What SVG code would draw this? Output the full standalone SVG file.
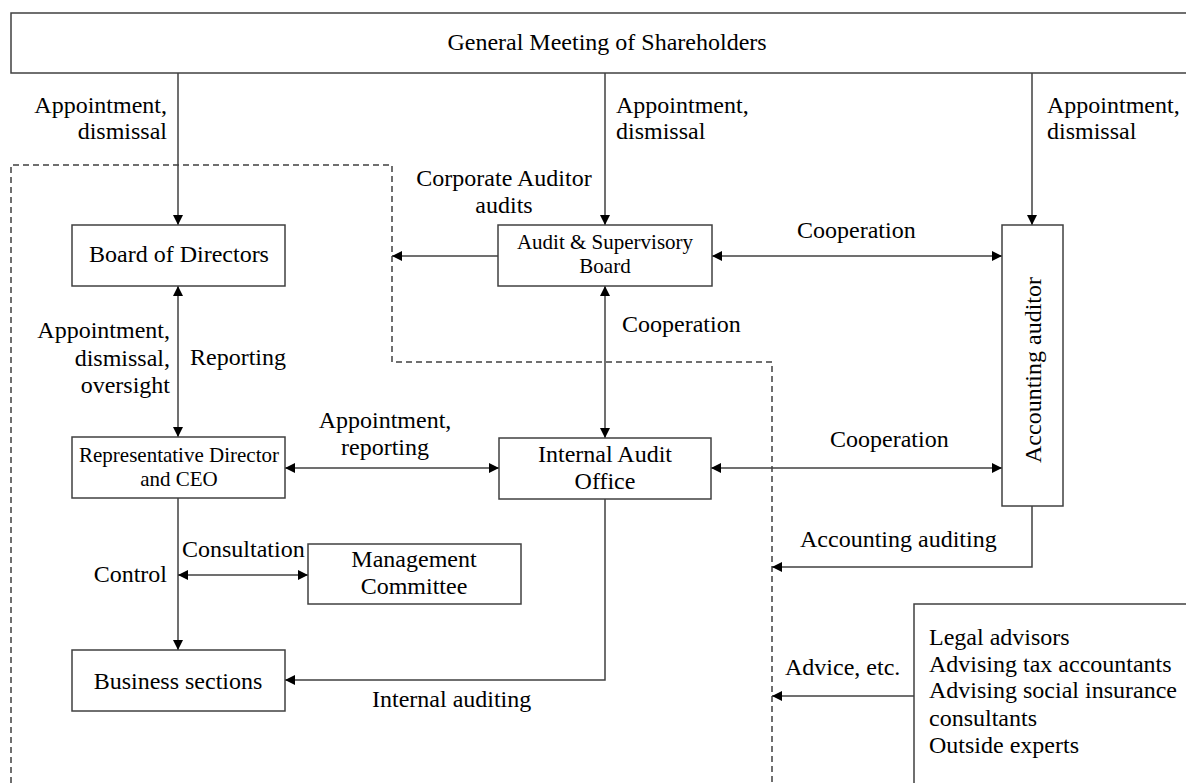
<svg xmlns="http://www.w3.org/2000/svg" width="1186" height="783" viewBox="0 0 1186 783">
<defs>
<style>
text{font-family:"Liberation Serif","Times New Roman",serif;font-size:24px;fill:#000}
.sm{font-size:21px}
.mid{text-anchor:middle}
.end{text-anchor:end}
.box{fill:#fff;stroke:#404040;stroke-width:1.5}
.ln{fill:none;stroke:#404040;stroke-width:1.5}
.dash{fill:none;stroke:#404040;stroke-width:1.5;stroke-dasharray:6 4}
</style>
<marker id="ah" viewBox="0 0 10 10" refX="10" refY="5" markerWidth="10" markerHeight="10" markerUnits="userSpaceOnUse" orient="auto-start-reverse">
<path d="M0,0 L10,5 L0,10 z" fill="#000"/>
</marker>
</defs>
<rect width="1186" height="783" fill="#fff"/>

<path id="boundary" class="dash" d="M11,783 L11,165 L392,165 L392,362 L772,362 L772,783"/>

<g id="connectors">
<path class="ln" d="M178,73 L178,225" marker-end="url(#ah)"/>
<path class="ln" d="M605,73 L605,225" marker-end="url(#ah)"/>
<path class="ln" d="M1032,73 L1032,225" marker-end="url(#ah)"/>
<path class="ln" d="M498,256 L392,256" marker-end="url(#ah)"/>
<path class="ln" d="M712,256 L1002,256" marker-start="url(#ah)" marker-end="url(#ah)"/>
<path class="ln" d="M605,286 L605,438" marker-start="url(#ah)" marker-end="url(#ah)"/>
<path class="ln" d="M178,286 L178,437" marker-start="url(#ah)" marker-end="url(#ah)"/>
<path class="ln" d="M285,468 L499,468" marker-start="url(#ah)" marker-end="url(#ah)"/>
<path class="ln" d="M711,468 L1002,468" marker-start="url(#ah)" marker-end="url(#ah)"/>
<path class="ln" d="M178,498 L178,650" marker-end="url(#ah)"/>
<path class="ln" d="M178,575 L308,575" marker-start="url(#ah)" marker-end="url(#ah)"/>
<path class="ln" d="M605,499 L605,680 L285,680" marker-end="url(#ah)"/>
<path class="ln" d="M1032,506 L1032,567 L772,567" marker-end="url(#ah)"/>
<path class="ln" d="M914,696 L772,696" marker-end="url(#ah)"/>

<text class="end" x="167" y="113">Appointment,</text>
<text class="end" x="167" y="139">dismissal</text>
<text x="616" y="113">Appointment,</text>
<text x="616" y="139">dismissal</text>
<text x="1047" y="113">Appointment,</text>
<text x="1047" y="139">dismissal</text>
<text class="mid" x="504" y="186">Corporate Auditor</text>
<text class="mid" x="504" y="213">audits</text>
<text x="797" y="238">Cooperation</text>
<text x="622" y="332">Cooperation</text>
<text class="end" x="170" y="338">Appointment,</text>
<text class="end" x="170" y="366">dismissal,</text>
<text class="end" x="170" y="393">oversight</text>
<text x="190" y="365">Reporting</text>
<text class="mid" x="385" y="428">Appointment,</text>
<text class="mid" x="385" y="455">reporting</text>
<text x="830" y="447">Cooperation</text>
<text x="182" y="557">Consultation</text>
<text class="end" x="167" y="582">Control</text>
<text x="800" y="547">Accounting auditing</text>
<text x="372" y="707">Internal auditing</text>
<text x="785" y="675">Advice, etc.</text>
</g>

<g id="gms">
<rect class="box" x="11" y="13" width="1190" height="60"/>
<text class="mid" x="607" y="50">General Meeting of Shareholders</text>
</g>
<g id="board">
<rect class="box" x="72" y="225" width="213" height="61"/>
<text class="mid" x="179" y="262">Board of Directors</text>
</g>
<g id="asb">
<rect class="box" x="498" y="225" width="214" height="61"/>
<text class="mid sm" x="605" y="249">Audit &amp; Supervisory</text>
<text class="mid sm" x="605" y="273">Board</text>
</g>
<g id="auditor">
<rect class="box" x="1002" y="225" width="61" height="281"/>
<text class="mid" transform="translate(1032,370) rotate(-90)" x="0" y="9">Accounting auditor</text>
</g>
<g id="ceo">
<rect class="box" x="72" y="437" width="213" height="61"/>
<text class="mid sm" x="179" y="462">Representative Director</text>
<text class="mid sm" x="179" y="486">and CEO</text>
</g>
<g id="iao">
<rect class="box" x="499" y="438" width="212" height="61"/>
<text class="mid" x="605" y="462">Internal Audit</text>
<text class="mid" x="605" y="489">Office</text>
</g>
<g id="mgmt">
<rect class="box" x="308" y="544" width="213" height="60"/>
<text class="mid" x="414" y="567">Management</text>
<text class="mid" x="414" y="594">Committee</text>
</g>
<g id="business">
<rect class="box" x="72" y="650" width="213" height="61"/>
<text class="mid" x="178" y="689">Business sections</text>
</g>
<g id="experts">
<rect class="box" x="914" y="604" width="300" height="200"/>
<text x="929" y="645">Legal advisors</text>
<text x="929" y="672">Advising tax accountants</text>
<text x="929" y="698">Advising social insurance</text>
<text x="929" y="726">consultants</text>
<text x="929" y="753">Outside experts</text>
</g>
</svg>
